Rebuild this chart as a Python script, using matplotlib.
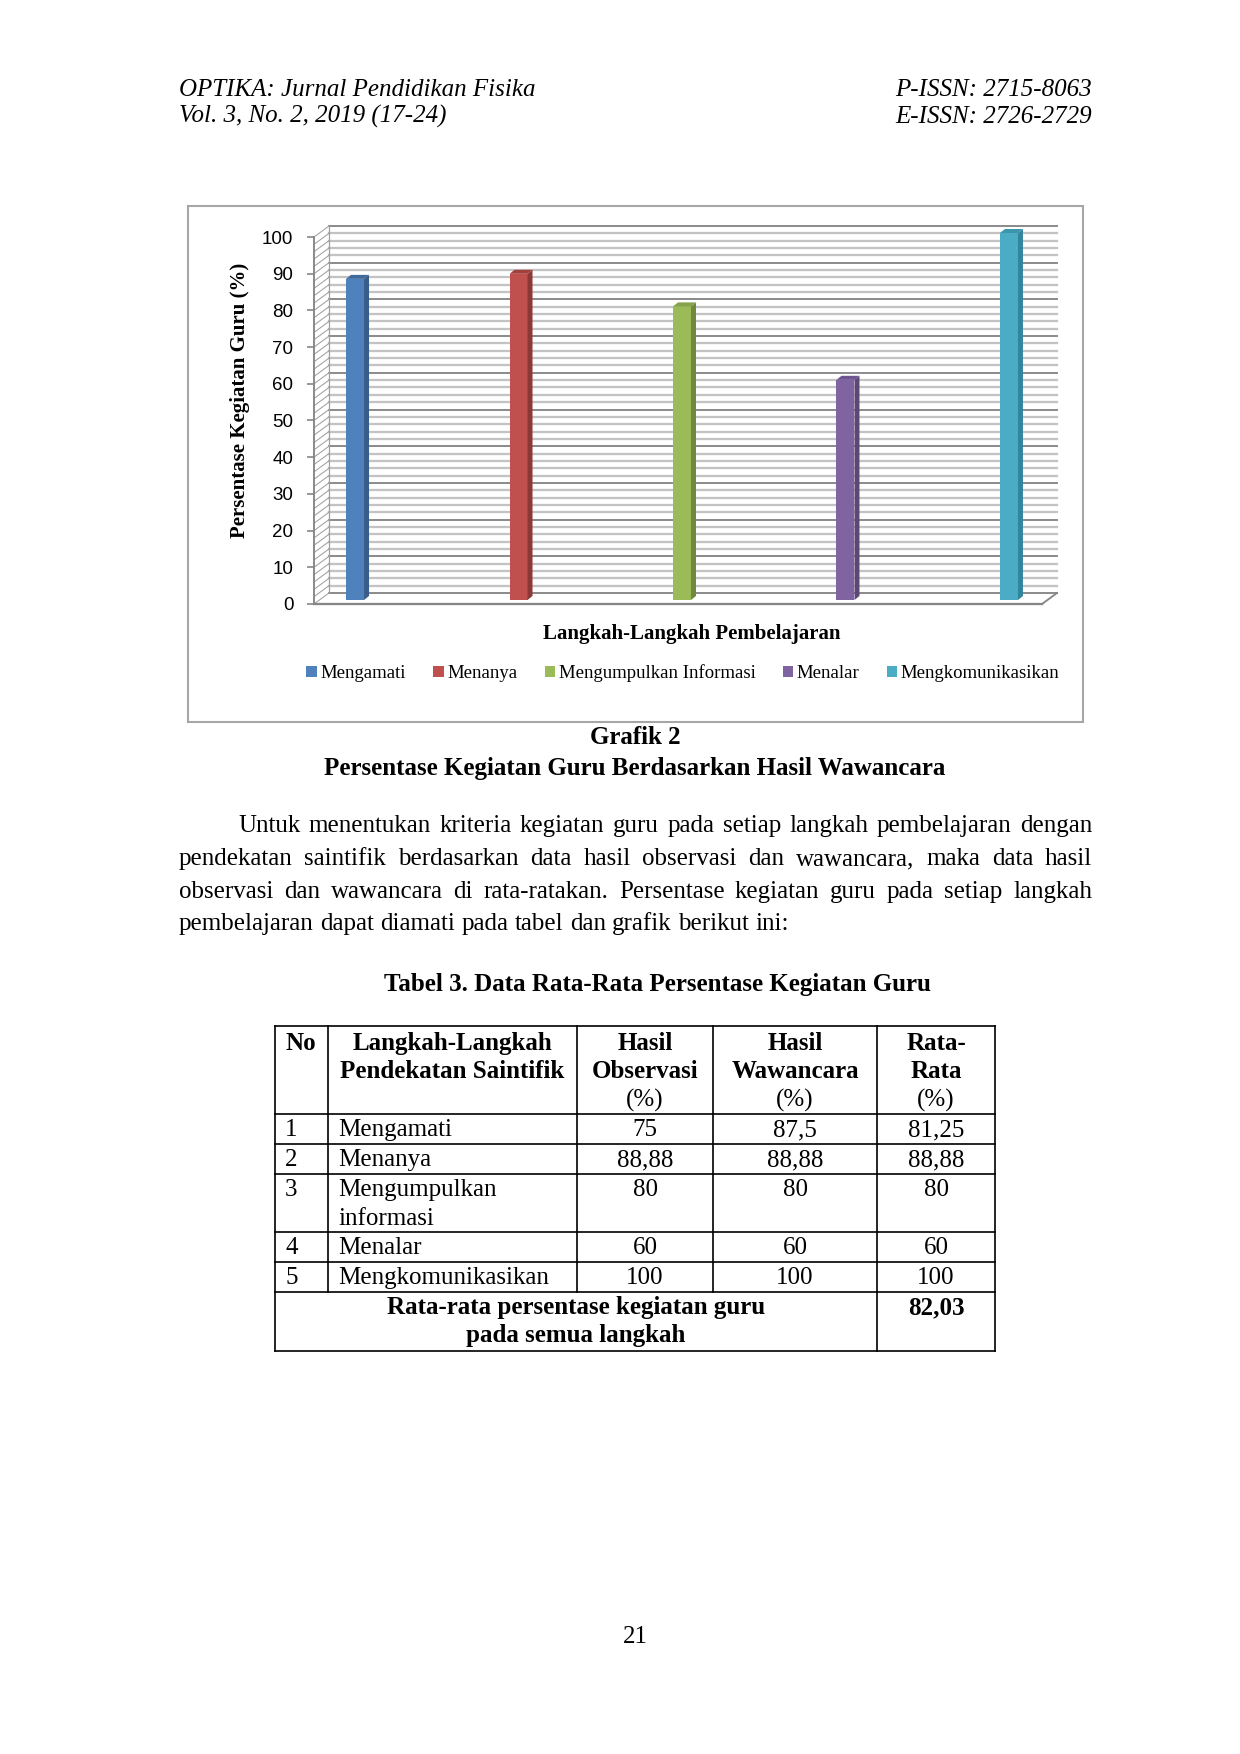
import matplotlib
matplotlib.use('Agg')
import matplotlib.pyplot as plt
from matplotlib.patches import Polygon, Rectangle, Patch

# data for the chart (hasil wawancara)
steps = ['Mengamati', 'Menanya', 'Mengumpulkan Informasi', 'Menalar', 'Mengkomunikasikan']
wawancara = [87.5, 88.88, 80, 60, 100]
colors = ['#4F81BD', '#C0504D', '#9BBB59', '#8064A2', '#4BACC6']
side_colors = ['#385D8A', '#8C3836', '#71893F', '#5C4776', '#31859C']
top_colors = ['#41699C', '#A3403D', '#86A24C', '#6C5590', '#3A95AD']
y_ticks = list(range(0, 101, 10))

# data for Tabel 3
tab_no = ['1', '2', '3', '4', '5']
tab_steps = ['Mengamati', 'Menanya', 'Mengumpulkan\ninformasi', 'Menalar', 'Mengkomunikasikan']
tab_obs = ['75', '88,88', '80', '60', '100']
tab_waw = ['87,5', '88,88', '80', '60', '100']
tab_avg = ['81,25', '88,88', '80', '60', '100']
overall_avg = '82,03'

paragraph = [
    'Untuk menentukan kriteria kegiatan guru pada setiap langkah pembelajaran dengan',
    'pendekatan saintifik berdasarkan data hasil observasi dan wawancara, maka data hasil',
    'observasi dan wawancara di rata-ratakan. Persentase kegiatan guru pada setiap langkah',
    'pembelajaran dapat diamati pada tabel dan grafik berikut ini:',
]

W, H, DPI = 1240, 1754, 150
SERIF = 'Liberation Serif'
SANS = 'Liberation Sans'

fig = plt.figure(figsize=(W / DPI, H / DPI), dpi=DPI)

# page axes in pixel coordinates (y downwards)
page = fig.add_axes([0, 0, 1, 1])
page.set_xlim(0, W)
page.set_ylim(H, 0)
page.axis('off')

# running header
hd = dict(family=SERIF, style='italic', fontsize=12, va='baseline')
page.text(179, 96, 'OPTIKA: Jurnal Pendidikan Fisika', **hd)
page.text(179, 123, 'Vol. 3, No. 2, 2019 (17-24)', **hd)
page.text(1092, 96, 'P-ISSN: 2715-8063', ha='right', **hd)
page.text(1092, 123, 'E-ISSN: 2726-2729', ha='right', **hd)

# chart frame
page.add_patch(Rectangle((188, 206), 895, 516, fill=False, edgecolor='#a6a6a6', lw=1.0))

# chart axes = front plane of the 3d box
L, R, T, B = 314, 1042, 237, 604
ax = fig.add_axes([L / W, 1 - B / H, (R - L) / W, (B - T) / H])
x = list(range(len(steps)))
x0, x1 = -0.251, 4.202
ax.set_xlim(x0, x1)
ax.set_ylim(0, 100)
ax.patch.set_visible(False)

p = ax.transData.transform([(0, 0), (1, 1)])
sx = p[1, 0] - p[0, 0]
sy = p[1, 1] - p[0, 1]
wdx, wdy = 15 / sx, 11 / sy      # depth of the walls
bdx, bdy = 5 / sx, 4 / sy        # depth of the bars

# back wall gridlines and side wall hatching
for v in range(0, 101, 2):
    major = v % 10 == 0
    ax.plot([x0 + wdx, x1 + wdx], [v + wdy, v + wdy],
            color='#868686' if major else '#c3c3c3', lw=0.9 if major else 1.1,
            clip_on=False, zorder=1)
    ax.plot([x0, x0 + wdx], [v, v + wdy], color='#a0a0a0', lw=0.5, clip_on=False, zorder=1)
ax.plot([x0 + wdx, x0 + wdx], [wdy, 100 + wdy], color='#a0a0a0', lw=0.6, clip_on=False, zorder=1)
ax.plot([x1, x1 + wdx], [0, wdy], color='#868686', lw=0.9, clip_on=False, zorder=1)

# bars with a small 3d look
bw = 0.11
bars = ax.bar(x, wawancara, width=bw, bottom=bdy, color=colors, zorder=3, clip_on=False)
for rect, val, sc, tc in zip(bars, wawancara, side_colors, top_colors):
    xl = rect.get_x()
    xr = xl + rect.get_width()
    top = bdy + val
    ax.add_patch(Polygon([(xr, bdy), (xr + bdx, 2 * bdy), (xr + bdx, top + bdy), (xr, top)],
                         closed=True, facecolor=sc, edgecolor='none', zorder=3, clip_on=False))
    ax.add_patch(Polygon([(xl, top), (xl + bdx, top + bdy), (xr + bdx, top + bdy), (xr, top)],
                         closed=True, facecolor=tc, edgecolor='none', zorder=3, clip_on=False))

ax.set_xticks([])
ax.set_yticks(y_ticks)
ax.tick_params(axis='y', length=3.4, color='#868686', width=0.8, pad=6.5, labelsize=9)
for lab in ax.get_yticklabels():
    lab.set_family(SANS)
for s in ['top', 'right']:
    ax.spines[s].set_visible(False)
ax.spines['left'].set_color('#868686')
ax.spines['left'].set_linewidth(0.9)
ax.spines['bottom'].set_color('#868686')
ax.spines['bottom'].set_linewidth(1.1)

fig.text(240 / W, 1 - 400 / H, 'Persentase Kegiatan Guru (%)', rotation=90, family=SERIF,
         weight='bold', fontsize=10, ha='center', va='center')
fig.text(692 / W, 1 - 634 / H, 'Langkah-Langkah Pembelajaran', family=SERIF,
         weight='bold', fontsize=10, ha='center', va='center')

handles = [Patch(facecolor=c, edgecolor='none') for c in colors]
fig.legend(handles, steps, loc='center', bbox_to_anchor=(683 / W, 1 - 673 / H), ncol=5,
           frameon=False, prop={'family': SERIF, 'size': 9}, handlelength=0.55,
           handleheight=0.55, handletextpad=0.2, columnspacing=1.45)

# caption
page.text(635, 738, 'Grafik 2', family=SERIF, weight='bold', fontsize=12, ha='center', va='center')
page.text(635, 768, 'Persentase Kegiatan Guru Berdasarkan Hasil Wawancara', family=SERIF,
          weight='bold', fontsize=12, ha='center', va='center')

# justified paragraph
renderer = fig.canvas.get_renderer()


def justify(line, y, xs, xe, last=False):
    words = line.split()
    texts = [page.text(0, y, w, family=SERIF, fontsize=12, va='baseline') for w in words]
    widths = [t.get_window_extent(renderer).width for t in texts]
    if last:
        gap = 6.3
    else:
        gap = (xe - xs - sum(widths)) / (len(words) - 1)
    pos = xs
    for t, w in zip(texts, widths):
        t.set_x(pos)
        pos += w + gap


para_y = [832, 865, 898, 930]
for i, (line, y) in enumerate(zip(paragraph, para_y)):
    justify(line, y, 238 if i == 0 else 179, 1092, last=(i == len(paragraph) - 1))

# table title
page.text(657, 985, 'Tabel 3. Data Rata-Rata Persentase Kegiatan Guru', family=SERIF,
          weight='bold', fontsize=12, ha='center', va='center')

# table grid
cx = [275, 328, 577, 713, 877, 995]
ry = [1026, 1114, 1144, 1174, 1232, 1262, 1292, 1351]
lk = dict(color='black', lw=0.8)
for yy in ry:
    page.plot([cx[0], cx[-1]], [yy, yy], **lk)
for xx in cx:
    bottom = ry[-1] if xx in (cx[0], cx[4], cx[5]) else ry[-2]
    page.plot([xx, xx], [ry[0], bottom], **lk)

hdr = dict(family=SERIF, weight='bold', fontsize=12, ha='center', va='baseline')
page.text(301, 1050, 'No', **hdr)
page.text(452, 1050, 'Langkah-Langkah', **hdr)
page.text(452, 1078, 'Pendekatan Saintifik', **hdr)
for cxm, lines in zip([645, 795, 936], [['Hasil', 'Observasi', '(%)'],
                                        ['Hasil', 'Wawancara', '(%)'],
                                        ['Rata-', 'Rata', '(%)']]):
    for j, ln in enumerate(lines):
        if ln == '(%)':
            page.text(cxm, 1107, ln, family=SERIF, fontsize=12, ha='center', va='baseline')
        else:
            page.text(cxm, 1050 + 28 * j, ln, **hdr)

body = dict(family=SERIF, fontsize=12, va='baseline')
for k in range(len(tab_no)):
    ybase = ry[k + 1] + 22
    page.text(285, ybase, tab_no[k], **body)
    for j, ln in enumerate(tab_steps[k].split('\n')):
        page.text(338, ybase + 29 * j, ln, **body)
    page.text(645, ybase, tab_obs[k], ha='center', **body)
    page.text(795, ybase, tab_waw[k], ha='center', **body)
    page.text(936, ybase, tab_avg[k], ha='center', **body)

page.text(576, 1314, 'Rata-rata persentase kegiatan guru', **hdr)
page.text(576, 1342, 'pada semua langkah', **hdr)
page.text(936, 1314, overall_avg, **hdr)

# page number
page.text(635, 1637, '21', family=SERIF, fontsize=12, ha='center', va='center')

fig.savefig('out.png', dpi=DPI)
